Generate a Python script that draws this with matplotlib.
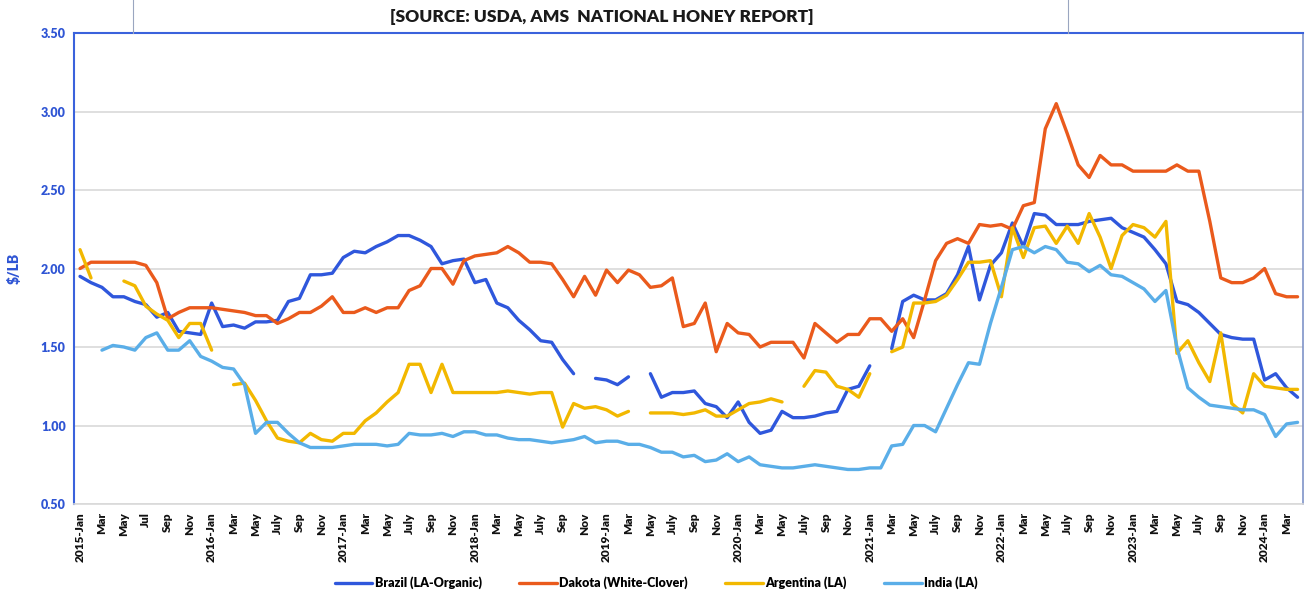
import numpy as np
import matplotlib.pyplot as plt
from matplotlib.lines import Line2D

nan = np.nan

# monthly prices, Jan 2015 .. Apr 2024 ($/LB)
brazil = [1.95, 1.91, 1.88, 1.82, 1.82, 1.79, 1.77, 1.69, 1.72, 1.60, 1.59, 1.58, 1.78, 1.63, 1.64, 1.62, 1.66, 1.66, 1.67,
          1.79, 1.81, 1.96, 1.96, 1.97, 2.07, 2.11, 2.10, 2.14, 2.17, 2.21, 2.21, 2.18, 2.14, 2.03, 2.05, 2.06, 1.91, 1.93,
          1.78, 1.75, 1.67, 1.61, 1.54, 1.53, 1.42, 1.33, nan, 1.30, 1.29, 1.26, 1.31, nan, 1.33, 1.18, 1.21, 1.21, 1.22,
          1.14, 1.12, 1.05, 1.15, 1.02, 0.95, 0.97, 1.09, 1.05, 1.05, 1.06, 1.08, 1.09, 1.23, 1.25, 1.38, nan, 1.49, 1.79,
          1.83, 1.80, 1.80, 1.84, 1.96, 2.14, 1.80, 2.02, 2.10, 2.29, 2.14, 2.35, 2.34, 2.28, 2.28, 2.28, 2.30, 2.31,
          2.32, 2.26, 2.23, 2.20, 2.12, 2.03, 1.79, 1.77, 1.72, 1.65, 1.58, 1.56, 1.55, 1.55, 1.29, 1.33, 1.24, 1.18]

dakota = [2.00, 2.04, 2.04, 2.04, 2.04, 2.04, 2.02, 1.91, 1.68, 1.72, 1.75, 1.75, 1.75, 1.74, 1.73, 1.72, 1.70, 1.70, 1.65,
          1.68, 1.72, 1.72, 1.76, 1.82, 1.72, 1.72, 1.75, 1.72, 1.75, 1.75, 1.86, 1.89, 2.00, 2.00, 1.90, 2.05, 2.08, 2.09,
          2.10, 2.14, 2.10, 2.04, 2.04, 2.03, 1.93, 1.82, 1.95, 1.83, 1.99, 1.91, 1.99, 1.96, 1.88, 1.89, 1.94, 1.63, 1.65,
          1.78, 1.47, 1.65, 1.59, 1.58, 1.50, 1.53, 1.53, 1.53, 1.43, 1.65, 1.59, 1.53, 1.58, 1.58, 1.68, 1.68, 1.60, 1.68,
          1.56, 1.80, 2.05, 2.16, 2.19, 2.16, 2.28, 2.27, 2.28, 2.25, 2.40, 2.42, 2.89, 3.05, 2.86, 2.66, 2.58, 2.72,
          2.66, 2.66, 2.62, 2.62, 2.62, 2.62, 2.66, 2.62, 2.62, 2.30, 1.94, 1.91, 1.91, 1.94, 2.00, 1.84, 1.82, 1.82]

argentina = [2.12, 1.94, nan, nan, 1.92, 1.89, 1.76, 1.71, 1.67, 1.56, 1.65, 1.65, 1.48, nan, 1.26, 1.27, 1.16, 1.03, 0.92,
             0.90, 0.89, 0.95, 0.91, 0.90, 0.95, 0.95, 1.03, 1.08, 1.15, 1.21, 1.39, 1.39, 1.21, 1.39, 1.21, 1.21, 1.21, 1.21,
             1.21, 1.22, 1.21, 1.20, 1.21, 1.21, 0.99, 1.14, 1.11, 1.12, 1.10, 1.06, 1.09, nan, 1.08, 1.08, 1.08, 1.07, 1.08,
             1.10, 1.06, 1.06, 1.10, 1.14, 1.15, 1.17, 1.15, nan, 1.25, 1.35, 1.34, 1.25, 1.23, 1.18, 1.33, nan, 1.47, 1.50,
             1.78, 1.78, 1.79, 1.83, 1.93, 2.04, 2.04, 2.05, 1.82, 2.26, 2.07, 2.26, 2.27, 2.16, 2.27, 2.16, 2.35, 2.20,
             2.00, 2.21, 2.28, 2.26, 2.20, 2.30, 1.46, 1.54, 1.40, 1.28, 1.59, 1.14, 1.08, 1.33, 1.25, 1.24, 1.23, 1.23]

india = [nan, nan, 1.48, 1.51, 1.50, 1.48, 1.56, 1.59, 1.48, 1.48, 1.54, 1.44, 1.41, 1.37, 1.36, 1.26, 0.95, 1.02, 1.02,
         0.95, 0.89, 0.86, 0.86, 0.86, 0.87, 0.88, 0.88, 0.88, 0.87, 0.88, 0.95, 0.94, 0.94, 0.95, 0.93, 0.96, 0.96, 0.94,
         0.94, 0.92, 0.91, 0.91, 0.90, 0.89, 0.90, 0.91, 0.93, 0.89, 0.90, 0.90, 0.88, 0.88, 0.86, 0.83, 0.83, 0.80, 0.81,
         0.77, 0.78, 0.82, 0.77, 0.80, 0.75, 0.74, 0.73, 0.73, 0.74, 0.75, 0.74, 0.73, 0.72, 0.72, 0.73, 0.73, 0.87, 0.88,
         1.00, 1.00, 0.96, 1.11, 1.26, 1.40, 1.39, 1.65, 1.88, 2.12, 2.14, 2.10, 2.14, 2.12, 2.04, 2.03, 1.98, 2.02,
         1.96, 1.95, 1.91, 1.87, 1.79, 1.86, 1.50, 1.24, 1.18, 1.13, 1.12, 1.11, 1.10, 1.10, 1.07, 0.93, 1.01, 1.02]

# tick label every second month
tick_labels = ["2015-Jan", "Mar", "May", "Jul", "Sep", "Nov"]
for yr in range(2016, 2025):
    tick_labels += [f"{yr}-Jan", "Mar", "May", "July", "Sep", "Nov"]
tick_labels = tick_labels[:56]

series = [("Brazil (LA-Organic)", brazil, "#2f57dc"),
          ("Dakota (White-Clover)", dakota, "#ea5a1c"),
          ("Argentina (LA)", argentina, "#f2b800"),
          ("India (LA)", india, "#5aaee8")]

plt.rcParams['font.family'] = ['Lato', 'DejaVu Sans']

fig = plt.figure(figsize=(13.05, 6.09), dpi=100)
ax = fig.add_axes([0.0567, 0.1724, 0.9418, 0.7734])

x = np.arange(len(brazil))
for name, vals, col in series:
    ax.plot(x, vals, color=col, lw=2.4, label=name, solid_capstyle='round')

ax.set_xlim(-0.55, 111.5)
ax.set_ylim(0.5, 3.5)
ax.set_yticks(np.arange(0.5, 3.51, 0.5))
ax.set_yticklabels([f"{v:.2f}" for v in np.arange(0.5, 3.51, 0.5)],
                   color="#2f55d4", fontweight='heavy', fontsize=9)
ax.set_xticks(x[::2])
ax.set_xticklabels(tick_labels, rotation=90, fontsize=8.5, fontweight='heavy', color="#111111")
ax.tick_params(length=0, pad=6)
ax.set_ylabel("$/LB", color="#2f55d4", fontweight='heavy', fontsize=10, labelpad=14)
ax.grid(axis='y', color="#d9d9d9", lw=1.2)
ax.set_axisbelow(True)

for side in ['left', 'top']:
    ax.spines[side].set_color("#3a62dc")
    ax.spines[side].set_linewidth(1.5)
ax.spines['right'].set_color("#7f93c8")
ax.spines['right'].set_linewidth(1.2)
ax.spines['bottom'].set_color("#d9d9d9")
ax.spines['bottom'].set_linewidth(1.2)

# source box frame above the plot
fig.add_artist(Line2D([133 / 1305, 133 / 1305], [1 - 33 / 609, 1.0], color="#9aa6c0", lw=0.8))
fig.add_artist(Line2D([1068 / 1305, 1068 / 1305], [1 - 33 / 609, 1.0], color="#9aa6c0", lw=0.8))
fig.text(0.461, 0.972, "[SOURCE: USDA, AMS  NATIONAL HONEY REPORT]", ha='center', va='center',
         fontsize=12.5, fontweight='heavy', color="#1a1a1a")

leg = fig.legend(loc='center', bbox_to_anchor=(0.503, 0.043), ncol=4, frameon=False,
                 handlelength=3.0, columnspacing=3.0, handletextpad=0.2,
                 prop={'weight': 'heavy', 'size': 9})

fig.savefig("out.png", dpi=100)
